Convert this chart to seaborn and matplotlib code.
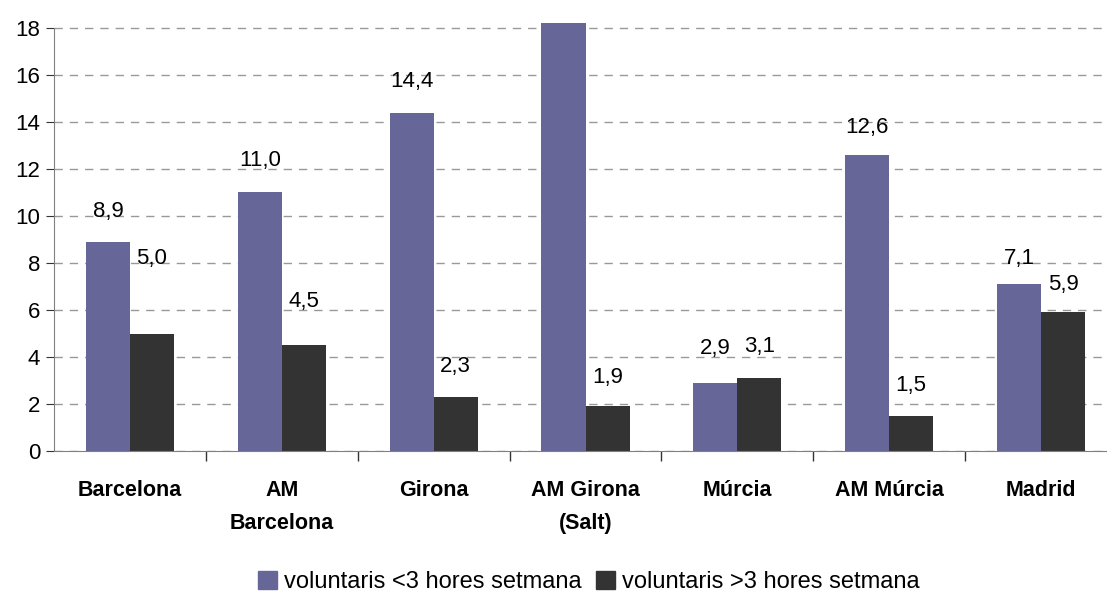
import pandas as pd
import matplotlib
matplotlib.use("Agg")
import matplotlib.pyplot as plt
import seaborn as sns
from matplotlib.ticker import FixedLocator

# Data
categories = ["Barcelona", "AM\nBarcelona", "Girona", "AM Girona\n(Salt)", "Múrcia", "AM Múrcia", "Madrid"]
series_names = ["voluntaris <3 hores setmana", "voluntaris >3 hores setmana"]
less_3h = [8.9, 11.0, 14.4, 18.2, 2.9, 12.6, 7.1]
more_3h = [5.0, 4.5, 2.3, 1.9, 3.1, 1.5, 5.9]
# labels hidden in the original (clipped bar) are left empty
less_labels = ["8,9", "11,0", "14,4", "", "2,9", "12,6", "7,1"]
more_labels = ["5,0", "4,5", "2,3", "1,9", "3,1", "1,5", "5,9"]
y_ticks = [0, 2, 4, 6, 8, 10, 12, 14, 16, 18]

df = pd.DataFrame({
    "categoria": categories * 2,
    "serie": [series_names[0]] * 7 + [series_names[1]] * 7,
    "valor": less_3h + more_3h,
})

sns.set_style("white")
plt.rcParams["font.family"] = ["Liberation Sans", "DejaVu Sans"]
plt.rcParams["text.color"] = "black"
plt.rcParams["xtick.color"] = "black"
plt.rcParams["ytick.color"] = "black"

fig = plt.figure(figsize=(11.07, 5.96), dpi=100)
ax = fig.add_axes([54 / 1107, 1 - 451 / 596, 1063 / 1107, (451 - 23.3) / 596])

sns.barplot(data=df, x="categoria", y="valor", hue="serie", order=categories,
            hue_order=series_names, palette=["#666699", "#333333"],
            width=0.58, gap=0, saturation=1, linewidth=0, ax=ax)

ax.set_xlim(-0.5, len(categories) - 0.5)
ax.set_ylim(0, 18.2)
ax.set_yticks(y_ticks)
ax.set_yticklabels([str(t) for t in y_ticks], fontsize=16)
ax.yaxis.grid(True, linestyle=(0, (6, 5)), color="#999999", linewidth=1)
ax.set_axisbelow(True)

# value labels above bars (extra offset in px for a few, as in the original)
less_off = [30, 32, 31, 30, 34, 27, 26]
more_off = [75, 44, 30, 29, 32, 30, 28]
bars_less, bars_more = ax.containers[0], ax.containers[1]
for bars, labels, offs in [(bars_less, less_labels, less_off), (bars_more, more_labels, more_off)]:
    for b, lab, off in zip(bars, labels, offs):
        ax.annotate(lab, (b.get_x() + b.get_width() / 2, b.get_height()),
                    xytext=(0, off * 72 / 100), textcoords="offset points",
                    ha="center", va="center", fontsize=16, color="black")

ax.set_xlabel("")
ax.set_ylabel("")
ax.set_xticks(range(len(categories)))
ax.set_xticklabels(categories, fontsize=15.5, fontweight="bold", linespacing=1.75)
ax.tick_params(axis="x", which="major", length=0, pad=21)
ax.xaxis.set_minor_locator(FixedLocator([i + 0.5 for i in range(len(categories) - 1)]))
ax.tick_params(axis="x", which="minor", length=7, direction="out", color="#333333", width=1, bottom=True)
ax.tick_params(axis="y", length=6, direction="out", color="#333333", left=True, pad=4)

for s in ["top", "right"]:
    ax.spines[s].set_visible(False)
ax.spines["left"].set_bounds(0, 18)
ax.spines["left"].set_color("#808080")
ax.spines["bottom"].set_color("#808080")

ax.get_legend().remove()
handles = [plt.Rectangle((0, 0), 1, 1, color=c) for c in ["#666699", "#333333"]]
fig.legend(handles, series_names, loc="center", bbox_to_anchor=(0.532, 0.024), ncol=2,
           frameon=False, fontsize=17, handlelength=0.8, handleheight=0.8,
           handletextpad=0.3, columnspacing=0.6)

fig.savefig("out.png", dpi=100)
